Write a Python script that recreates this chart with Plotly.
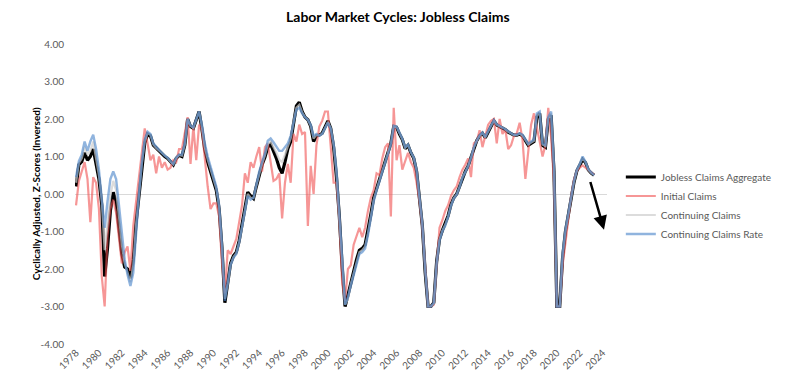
import plotly.graph_objects as go

# Quarterly sampling grid (decimal years), 1978.00 .. 2023.25
quarters = [1978 + 0.25 * i for i in range(182)]

aggregate = [
    # 1978.00 - 1987.00
    0.20, 0.78, 0.86, 1.10, 0.90, 1.00, 1.20, 0.85, 0.40, -0.30, -2.20, -1.45, -0.45, 0.05, -0.20, -0.90,
    -1.60, -1.95, -2.00, -2.25, -1.75, -0.75, -0.05, 0.75, 1.35, 1.60, 1.55, 1.30, 1.22, 1.15, 1.08, 1.00,
    0.95, 0.85, 0.78, 0.95, 1.03,
    # 1987.25 - 1996.25
    1.00, 1.30, 2.00, 1.80, 1.75, 2.00, 2.20, 1.72, 1.18, 0.85, 0.60, 0.38, 0.10, -0.40, -1.45, -2.90,
    -2.40, -1.85, -1.65, -1.55, -1.25, -0.85, -0.35, 0.05, -0.05, -0.12, 0.20, 0.52, 0.78, 0.98, 1.25, 1.33,
    1.15, 0.95, 0.70, 0.55, 0.85,
    # 1996.50 - 2005.50
    1.20, 1.40, 1.90, 2.35, 2.45, 2.20, 2.05, 1.98, 1.80, 1.40, 1.55, 1.57, 1.62, 1.80, 1.95, 1.75,
    1.25, 0.45, -0.60, -1.95, -3.00, -2.70, -2.35, -2.05, -1.75, -1.50, -1.45, -1.35, -1.00, -0.55, -0.10, 0.15,
    0.38, 0.60, 0.85, 1.12, 1.35,
    # 2005.75 - 2014.50
    1.80, 1.78, 1.60, 1.45, 1.21, 1.30, 1.10, 0.95, 0.60, -0.05, -0.85, -2.10, -3.00, -3.00, -2.90, -1.80,
    -1.20, -0.97, -0.80, -0.58, -0.28, -0.10, 0.00, 0.20, 0.45, 0.60, 0.75, 0.98, 1.25, 1.42, 1.55, 1.62,
    1.50, 1.66, 1.80, 1.95,
    # 2014.75 - 2023.25
    1.84, 1.80, 1.76, 1.72, 1.65, 1.60, 1.57, 1.57, 1.60, 1.55, 1.42, 1.30, 1.35, 1.40, 2.05, 2.15,
    1.30, 1.25, 2.00, 2.10, 0.60, -3.00, -3.00, -1.70, -1.00, -0.55, -0.10, 0.32, 0.62, 0.76, 0.92, 0.84,
    0.64, 0.56, 0.50,
]

initial = [
    -0.30, 0.35, 0.60, 0.85, 0.40, -0.75, 0.45, 0.30, -0.40, -2.20, -3.00, -1.10, -0.40, -0.15, -0.50, -1.20,
    -1.85, -1.55, -1.40, -2.05, -0.85, -0.20, 0.40, 1.00, 1.75, 1.35, 0.90, 1.05, 0.55, 1.00, 0.70, 0.85,
    0.65, 0.70, 0.90, 0.85, 1.20,
    1.20, 1.60, 2.05, 0.80, 1.80, 0.90, 1.85, 1.70, 0.90, 0.20, -0.40, -0.25, -0.25, -0.60, -1.85, -2.65,
    -1.50, -1.60, -1.40, -1.20, -0.75, -0.30, 0.55, 0.30, 0.85, 0.70, 1.00, 1.25, 0.60, 1.25, 1.35, 0.80,
    0.35, 0.40, 0.55, -0.65, 0.30,
    0.80, 0.30, 1.60, 1.40, 1.85, 1.60, 1.65, -0.85, 0.75, 0.00, 1.30, 1.80, 1.95, 2.20, 2.20, 1.20,
    0.30, 0.30, -0.70, -2.40, -2.85, -2.00, -1.90, -1.35, -1.15, -0.90, -1.15, -0.90, -0.45, -0.10, 0.10, 0.55,
    0.50, 0.95, 1.25, 1.35, -0.60,
    2.30, 0.90, 1.30, 0.65, 0.90, 1.10, 0.85, 0.70, 0.30, -0.20, -0.90, -2.00, -3.00, -3.00, -2.95, -1.90,
    -0.90, -0.70, -0.45, -0.30, -0.05, 0.10, 0.20, 0.45, 0.65, 0.78, 0.95, 0.45, 1.35, 1.40, 1.70, 1.25,
    1.55, 1.85, 1.95, 2.00,
    1.35, 2.00, 1.60, 1.72, 1.20, 1.30, 1.55, 1.62, 1.90, 1.45, 0.40, 1.15, 1.85, 2.15, 1.80, 1.40,
    1.00, 1.30, 2.30, 1.50, 0.30, -3.00, -3.00, -1.90, -1.30, -0.60, -0.05, 0.40, 0.62, 0.70, 0.76, 0.70,
    0.64, 0.58, 0.52,
]

continuing = [
    0.30, 0.82, 0.95, 1.25, 1.05, 1.15, 1.40, 1.00, 0.50, -0.20, -1.50, -0.80, -0.05, 0.35, 0.10, -0.60,
    -1.35, -1.85, -2.08, -2.35, -1.90, -0.80, -0.02, 0.80, 1.40, 1.63, 1.58, 1.32, 1.23, 1.16, 1.09, 1.01,
    0.96, 0.86, 0.79, 0.96, 1.04,
    1.02, 1.32, 2.00, 1.81, 1.76, 2.01, 2.20, 1.78, 1.25, 0.92, 0.68, 0.44, 0.15, -0.35, -1.40, -2.80,
    -2.40, -1.88, -1.68, -1.58, -1.28, -0.88, -0.40, 0.00, -0.10, -0.11, 0.22, 0.56, 0.82, 1.03, 1.33, 1.40,
    1.26, 1.10, 0.92, 0.85, 1.05,
    1.28, 1.48, 1.92, 2.30, 2.38, 2.18, 2.05, 1.98, 1.82, 1.48, 1.58, 1.56, 1.61, 1.78, 1.92, 1.75,
    1.30, 0.55, -0.50, -1.80, -2.95, -2.80, -2.40, -2.10, -1.80, -1.55, -1.50, -1.40, -1.05, -0.60, -0.15, 0.12,
    0.35, 0.58, 0.82, 1.10, 1.34,
    1.81, 1.79, 1.62, 1.46, 1.23, 1.31, 1.11, 0.96, 0.62, -0.02, -0.82, -2.05, -3.00, -3.00, -2.92, -1.82,
    -1.22, -0.98, -0.82, -0.60, -0.30, -0.11, -0.01, 0.19, 0.44, 0.59, 0.75, 0.97, 1.24, 1.42, 1.55, 1.63,
    1.51, 1.67, 1.81, 1.96,
    1.85, 1.81, 1.77, 1.73, 1.66, 1.61, 1.57, 1.57, 1.61, 1.56, 1.44, 1.32, 1.37, 1.42, 2.10, 2.15,
    1.32, 1.28, 2.02, 2.15, 0.72, -3.00, -3.00, -1.62, -0.98, -0.52, -0.09, 0.33, 0.63, 0.78, 0.96, 0.85,
    0.65, 0.56, 0.50,
]

continuing_rate = [
    0.45, 0.88, 1.05, 1.40, 1.15, 1.40, 1.58, 1.20, 0.65, -0.10, -0.90, -0.20, 0.40, 0.60, 0.40, -0.30,
    -1.10, -1.75, -2.15, -2.45, -2.10, -0.90, 0.00, 0.85, 1.45, 1.66, 1.60, 1.35, 1.25, 1.18, 1.10, 1.02,
    0.97, 0.87, 0.80, 0.97, 1.05,
    1.05, 1.35, 2.00, 1.82, 1.78, 2.02, 2.20, 1.85, 1.35, 1.00, 0.75, 0.50, 0.20, -0.30, -1.35, -2.85,
    -2.40, -1.90, -1.70, -1.60, -1.30, -0.90, -0.45, -0.05, -0.15, -0.10, 0.25, 0.60, 0.85, 1.08, 1.42, 1.48,
    1.38, 1.25, 1.15, 1.15, 1.25,
    1.35, 1.55, 1.95, 2.25, 2.30, 2.15, 2.05, 1.98, 1.85, 1.55, 1.60, 1.55, 1.60, 1.75, 1.90, 1.75,
    1.35, 0.65, -0.40, -1.70, -2.95, -2.75, -2.45, -2.15, -1.85, -1.60, -1.55, -1.45, -1.10, -0.65, -0.20, 0.08,
    0.32, 0.55, 0.80, 1.08, 1.32,
    1.82, 1.80, 1.64, 1.48, 1.25, 1.32, 1.12, 0.98, 0.65, 0.00, -0.80, -2.00, -3.00, -3.00, -2.90, -1.85,
    -1.25, -1.00, -0.85, -0.62, -0.32, -0.12, -0.02, 0.18, 0.42, 0.58, 0.74, 0.96, 1.24, 1.42, 1.56, 1.64,
    1.52, 1.68, 1.82, 1.97,
    1.86, 1.82, 1.78, 1.74, 1.68, 1.62, 1.58, 1.58, 1.62, 1.58, 1.46, 1.34, 1.40, 1.45, 2.15, 2.20,
    1.35, 1.30, 2.05, 2.20, 0.75, -3.00, -3.00, -1.60, -0.95, -0.50, -0.08, 0.35, 0.65, 0.80, 1.00, 0.86,
    0.66, 0.57, 0.50,
]

tick_years = list(range(1978, 2025, 2))
tick_labels = [str(y) for y in tick_years]
y_ticks = [4, 3, 2, 1, 0, -1, -2, -3, -4]
y_tick_labels = ["4.00", "3.00", "2.00", "1.00", "0.00", "-1.00", "-2.00", "-3.00", "-4.00"]

# Hand-drawn arrow (start -> end) in data units
arrow_start = (2022.89, 0.36)
arrow_end = (2024.12, -0.95)

FONT = "Lato"
GREY_TXT = "#595959"

fig = go.Figure()
fig.add_trace(go.Scatter(x=quarters, y=aggregate, mode="lines", name="Jobless Claims Aggregate",
                         line=dict(color="black", width=3.2)))
fig.add_trace(go.Scatter(x=quarters, y=initial, mode="lines", name="Initial Claims",
                         line=dict(color="rgba(240,80,80,0.6)", width=2.2)))
fig.add_trace(go.Scatter(x=quarters, y=continuing, mode="lines", name="Continuing Claims",
                         line=dict(color="rgba(205,205,205,0.7)", width=2.2)))
fig.add_trace(go.Scatter(x=quarters, y=continuing_rate, mode="lines", name="Continuing Claims Rate",
                         line=dict(color="rgba(70,130,200,0.6)", width=2.4)))

fig.add_annotation(x=arrow_end[0], y=arrow_end[1], ax=arrow_start[0], ay=arrow_start[1],
                   xref="x", yref="y", axref="x", ayref="y", text="", showarrow=True,
                   arrowhead=2, arrowsize=1.1, arrowwidth=2.5, arrowcolor="black")

fig.add_annotation(text="<b>Labor Market Cycles: Jobless Claims</b>", x=0.607, y=1.09,
                   xref="paper", yref="paper", showarrow=False, xanchor="center", yanchor="middle",
                   font=dict(family=FONT, size=14, color="black"))
fig.add_annotation(text="<b>Cyclically Adjusted, Z-Scores (Inversed)</b>", x=-0.073, y=0.5,
                   xref="paper", yref="paper", showarrow=False, textangle=-90,
                   xanchor="center", yanchor="middle",
                   font=dict(family=FONT, size=10, color="black"))

# The page body has an 8px margin, so the figure is 8px smaller than the window.
fig.update_layout(
    width=794, height=379,
    margin=dict(l=67, r=195, t=36, b=43, pad=0),
    paper_bgcolor="white", plot_bgcolor="white",
    font=dict(family=FONT, size=10, color=GREY_TXT),
    showlegend=True,
    legend=dict(x=1.026, y=0.605, xanchor="left", yanchor="top",
                font=dict(family=FONT, size=10, color=GREY_TXT),
                bgcolor="rgba(0,0,0,0)", borderwidth=0),
    xaxis=dict(range=[1977.91, 2024.38], tickvals=tick_years, ticktext=tick_labels, tickangle=-45,
               showgrid=False, showline=False, zeroline=False, ticks="",
               tickfont=dict(family=FONT, size=10, color=GREY_TXT)),
    yaxis=dict(range=[-4, 4], tickvals=y_ticks, ticktext=y_tick_labels, showgrid=False,
               showline=False, zeroline=True, zerolinecolor="#d9d9d9", zerolinewidth=1,
               ticks="", ticklabelstandoff=10,
               tickfont=dict(family=FONT, size=10, color=GREY_TXT)),
)

fig.write_html("out.html")
